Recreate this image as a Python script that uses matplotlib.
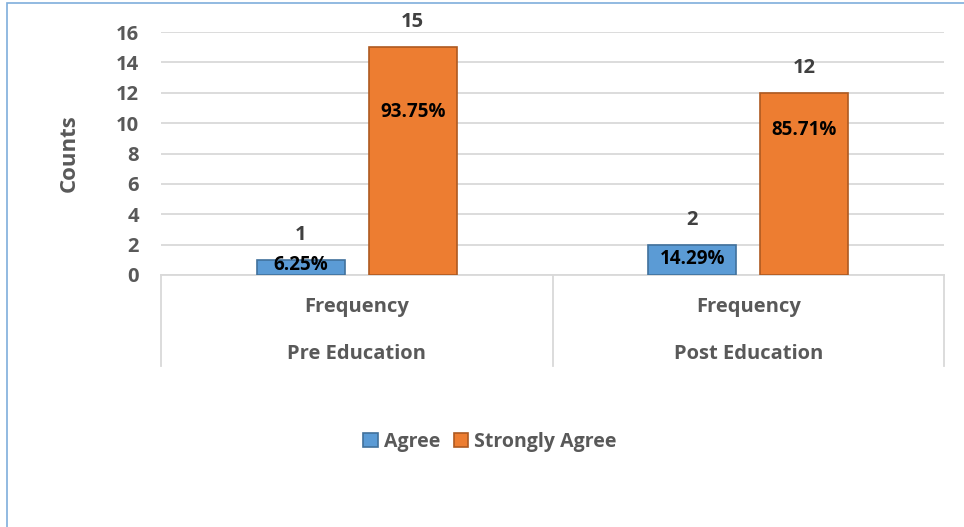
import matplotlib
matplotlib.use("Agg")
import matplotlib.pyplot as plt
from matplotlib.patches import Rectangle, Patch
from matplotlib.transforms import blended_transform_factory

# Survey responses before and after the education sessions
groups = ["Pre Education", "Post Education"]
measure = "Frequency"
series = ["Agree", "Strongly Agree"]
agree = [1, 2]
strongly_agree = [15, 12]
agree_pct = ["6.25%", "14.29%"]
strongly_pct = ["93.75%", "85.71%"]
yticks = [0, 2, 4, 6, 8, 10, 12, 14, 16]

# vertical placement of the percentage labels (data units)
agree_pct_y = [0.66, 1.05]
strongly_pct_y = [10.73, 9.55]

FONT = "Open Sans"
GREY = "#595959"
DARK = "#404040"
BLUE, BLUE_EDGE = "#5B9BD5", "#41719C"
ORANGE, ORANGE_EDGE = "#ED7D31", "#AE5A21"
FS = 14.5

W, H = 964, 527
fig = plt.figure(figsize=(W / 100, H / 100), dpi=100)
fig.patch.set_facecolor("white")

# chart frame (left and top edges visible)
fig.patches.append(Rectangle((7 / W, -0.05), 1.2, 1 - 3 / H + 0.05,
                             transform=fig.transFigure, fill=False,
                             edgecolor="#7FAEDC", linewidth=1.2))

left, right, top, bottom = 161, 944, 32, 275
ax = fig.add_axes([left / W, 1 - bottom / H, (right - left) / W, (bottom - top) / H])
ax_h = bottom - top

x = list(range(len(groups)))
off, bw = 0.143, 0.225
xa = [i - off for i in x]
xs = [i + off for i in x]

ax.bar(xa, agree, width=bw, color=BLUE, edgecolor=BLUE_EDGE, linewidth=1.2, zorder=3)
ax.bar(xs, strongly_agree, width=bw, color=ORANGE, edgecolor=ORANGE_EDGE, linewidth=1.2, zorder=3)

ax.set_xlim(-0.5, 1.5)
ax.set_ylim(0, 16)
ax.set_yticks(yticks)
ax.set_yticklabels([str(t) for t in yticks], fontfamily=FONT, fontweight="bold",
                   fontsize=FS, color=GREY)
ax.tick_params(axis="y", length=0, pad=16)
ax.tick_params(axis="x", length=0, labelbottom=False)
ax.yaxis.grid(True, color="#D9D9D9", linewidth=1.3, zorder=0)
ax.set_axisbelow(True)
for s in ["top", "right", "left"]:
    ax.spines[s].set_visible(False)
ax.spines["bottom"].set_color("#D9D9D9")
ax.spines["bottom"].set_linewidth(1.3)

ax.set_ylabel("Counts", fontfamily=FONT, fontweight="bold", fontsize=16,
              color=GREY, labelpad=26)

# value labels above the bars, percentages inside
for xi, v, p, py in zip(xa, agree, agree_pct, agree_pct_y):
    ax.annotate(str(v), (xi, v), xytext=(0, 25), textcoords="offset pixels",
                ha="center", va="center", fontfamily=FONT, fontweight="bold",
                fontsize=FS, color=DARK, zorder=5)
    ax.text(xi, py, p, ha="center", va="center", fontfamily=FONT,
            fontweight="bold", fontsize=13.5, color="black", zorder=5)
for xi, v, p, py in zip(xs, strongly_agree, strongly_pct, strongly_pct_y):
    ax.annotate(str(v), (xi, v), xytext=(0, 25), textcoords="offset pixels",
                ha="center", va="center", fontfamily=FONT, fontweight="bold",
                fontsize=FS, color=DARK, zorder=5)
    ax.text(xi, py, p, ha="center", va="center", fontfamily=FONT,
            fontweight="bold", fontsize=13.5, color="black", zorder=5)

# two-level category axis
tr = blended_transform_factory(ax.transData, ax.transAxes)
for b in [-0.5, 0.5, 1.5]:
    ax.plot([b, b], [0, -91 / ax_h], transform=tr, color="#D9D9D9",
            linewidth=1.3, clip_on=False)
for xi, g in zip(x, groups):
    ax.text(xi, -32 / ax_h, measure, transform=tr, ha="center", va="center",
            fontfamily=FONT, fontweight="bold", fontsize=FS, color=GREY)
    ax.text(xi, -79 / ax_h, g, transform=tr, ha="center", va="center",
            fontfamily=FONT, fontweight="bold", fontsize=FS, color=GREY)

handles = [Patch(facecolor=BLUE, edgecolor=BLUE_EDGE, linewidth=1.2),
           Patch(facecolor=ORANGE, edgecolor=ORANGE_EDGE, linewidth=1.2)]
fig.legend(handles, series, loc="center", bbox_to_anchor=(490 / W, 1 - 442 / H),
           ncol=2, frameon=False, handlelength=0.75, handleheight=0.75,
           handletextpad=0.3, columnspacing=0.7,
           prop={"family": FONT, "weight": "bold", "size": 14}, labelcolor=GREY)

fig.savefig("out.png", dpi=100)
